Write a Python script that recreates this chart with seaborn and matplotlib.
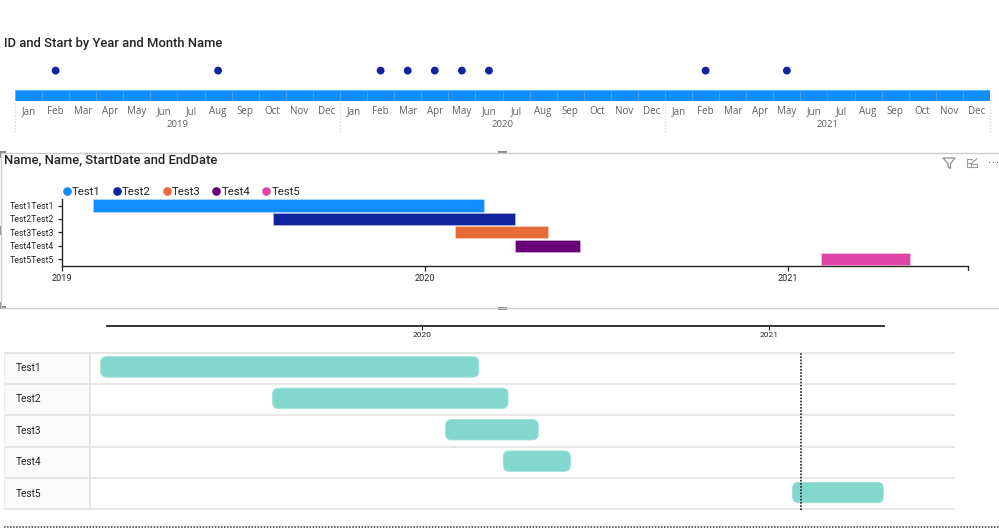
import matplotlib
matplotlib.use("Agg")
import matplotlib.pyplot as plt
import matplotlib.dates as mdates
from matplotlib.lines import Line2D
from matplotlib.patches import FancyBboxPatch, Rectangle, Polygon
import pandas as pd
import seaborn as sns

sns.set_theme(style="white")
plt.rcParams["font.family"] = ["Open Sans", "DejaVu Sans"]

W, H = 999, 530
ROBOTO = ["Roboto", "DejaVu Sans"]

# top chart: month timeline with dots
month_names = ["Jan", "Feb", "Mar", "Apr", "May", "Jun", "Jul", "Aug", "Sep", "Oct", "Nov", "Dec"]
years = [2019, 2020, 2021]
dot_months = ["2019-02", "2019-08", "2020-02", "2020-03", "2020-04", "2020-05", "2020-06", "2021-02", "2021-05"]

# middle chart
mid_names = ["Test1Test1", "Test2Test2", "Test3Test3", "Test4Test4", "Test5Test5"]
legend_names = ["Test1", "Test2", "Test3", "Test4", "Test5"]
mid_start = ["2019-02-01", "2019-08-01", "2020-02-01", "2020-04-01", "2021-02-03"]
mid_end = ["2020-03-01", "2020-04-01", "2020-05-04", "2020-06-06", "2021-05-04"]
mid_colors = ["#118DFF", "#12239E", "#E66C37", "#6B007B", "#E044A7"]

# bottom chart
low_names = ["Test1", "Test2", "Test3", "Test4", "Test5"]
low_start = ["2019-01-26", "2019-07-27", "2020-01-26", "2020-03-27", "2021-01-27"]
low_end = ["2020-03-01", "2020-04-01", "2020-05-03", "2020-06-06", "2021-05-03"]
low_axis_range = ["2019-02-02", "2021-05-03"]
today = "2021-02-05"


def box_axes(fig, left, top, right, bottom):
    ax = fig.add_axes([left / W, 1 - bottom / H, (right - left) / W, (bottom - top) / H])
    ax.patch.set_alpha(0)
    return ax


def date_limits(left, right, date0, px0, date1, px1):
    d0 = mdates.date2num(pd.Timestamp(date0))
    d1 = mdates.date2num(pd.Timestamp(date1))
    per_px = (d1 - d0) / (px1 - px0)
    return d0 + (left - px0) * per_px, d0 + (right - px0) * per_px


def gantt_frame(names, starts, ends):
    df = pd.DataFrame({"name": names, "start": pd.to_datetime(starts), "end": pd.to_datetime(ends)})
    df["start_num"] = mdates.date2num(df["start"])
    df["days"] = (df["end"] - df["start"]).dt.days
    return df


fig = plt.figure(figsize=(W / 100, H / 100), dpi=100, facecolor="white")

# page furniture in pixel coordinates
page = fig.add_axes([0, 0, 1, 1], zorder=0)
page.set_xlim(0, W)
page.set_ylim(H, 0)
page.axis("off")

page.text(4, 43.5, "ID and Start by Year and Month Name", fontsize=9.35, color="#252423", va="center",
          family=ROBOTO, weight=500)
page.text(4, 160, "Name, Name, StartDate and EndDate", fontsize=9.35, color="#252423", va="center",
          family=ROBOTO, weight=500)

frame = "#CCCCCC"
page.plot([1, 999], [152.5, 152.5], color=frame, lw=1)
page.plot([1, 999], [308, 308], color=frame, lw=1)
page.plot([1, 1], [152.5, 308], color=frame, lw=1)
for x, y, w, h in [(498, 151, 9, 3), (498, 306.5, 9, 3), (0, 151, 2, 7), (0, 226, 2, 9),
                   (0, 302, 2, 7), (2, 151, 4, 2), (2, 306, 4, 2)]:
    page.add_patch(Rectangle((x, y), w, h, color="#8A8A8A", lw=0))

# header icons
page.add_patch(Polygon([(943, 158), (955, 158), (950.5, 163.5), (950.5, 168.5), (948, 167), (948, 163.5)],
                       closed=True, fill=False, ec="#8E8E8E", lw=0.9))
page.plot([972, 966.5, 966.5, 977, 977, 972], [158.5, 158.5, 167, 167, 164, 164], color="#9A9A9A", lw=0.8)
page.plot([966.5, 971, 971], [163, 163, 167], color="#9A9A9A", lw=0.8)
page.plot([971, 977], [164, 158.5], color="#9A9A9A", lw=0.8)
for x in [989, 993, 997]:
    page.add_patch(Rectangle((x, 161.5), 1.3, 1.3, color="#666666", lw=0))

# bottom table background
line_grey = "#E3E3E3"
page.add_patch(Rectangle((4, 352.5), 86, 157, color="#FAFAFA", lw=0))
for y in [352.5, 384, 415.3, 446.5, 478, 509.3]:
    page.plot([4, 955], [y, y], color=line_grey, lw=1.2, solid_capstyle="butt")
page.plot([90, 90], [352.5, 509.3], color=line_grey, lw=1.2)
page.plot([4, 4], [352.5, 509.3], color="#EDEDED", lw=0.8)
page.plot([4, 999], [527, 527], color="#333333", lw=1.1, ls=(0, (1, 1)))

# top chart
periods = [f"{y}-{m:02d}" for y in years for m in range(1, 13)]
month_labels = month_names * len(years)
band = pd.DataFrame({"pos": range(len(periods)), "height": [1] * len(periods)})

ax = box_axes(fig, 15, 60, 990, 100.7)
sns.barplot(data=band, x="pos", y="height", width=1, color="#118DFF", saturation=1,
            edgecolor="#4AA6FC", linewidth=0.5, ax=ax)
dots = pd.DataFrame({"pos": [periods.index(d) for d in dot_months], "level": 2.9})
sns.scatterplot(data=dots, x="pos", y="level", s=32, color="#12239E", edgecolor="none", ax=ax, clip_on=False)
ax.set_xlim(-0.5, len(periods) - 0.5)
ax.set_ylim(0, 3.92)
ax.set_xticks(range(len(periods)))
ax.set_xticklabels(month_labels, fontsize=7, color="#605E5C")
ax.tick_params(axis="x", length=0, pad=3.6)
ax.set_yticks([])
ax.set_xlabel("")
ax.set_ylabel("")
sns.despine(ax=ax, left=True, bottom=True)
for i, year in enumerate(years):
    ax.text(5.5 + 12 * i, -2.28, str(year), fontsize=6.8, color="#605E5C", ha="center", va="center")
ax.vlines([-0.5, 11.5, 23.5, 35.5], -3.0, 0, color="#D5D5D5", lw=0.9, ls=(0, (1, 1.5)), clip_on=False)

# middle chart
mid = gantt_frame(mid_names, mid_start, mid_end)
ax = box_axes(fig, 62, 198.8, 968, 265.8)
sns.barplot(data=mid, y="name", x="days", left=mid["start_num"], width=0.92, saturation=1,
            color=mid_colors[0], errorbar=None, ax=ax)
for bar, c in zip(ax.patches, mid_colors):
    bar.set_facecolor(c)
    bar.set_edgecolor((1, 1, 1, 0.3))
    bar.set_linewidth(0.6)
ax.set_xlim(*date_limits(62, 968, "2019-01-01", 62, "2021-01-01", 788))
ax.set_ylim(4.5, -0.5)
ax.xaxis_date()
ax.set_xticks(mdates.date2num(pd.to_datetime(["2019-01-01", "2020-01-01", "2021-01-01"])))
ax.set_xticklabels(["2019", "2020", "2021"], fontsize=6.6, color="#252423", family=ROBOTO)
ax.tick_params(axis="x", length=3.5, width=0.9, color="#252423", pad=2.5, bottom=True)
ax.tick_params(axis="y", length=3.2, width=0.9, color="#252423", pad=2.4, left=True, labelsize=6.3, labelcolor="#252423")
for label in ax.get_yticklabels():
    label.set_family(ROBOTO)
ax.set_xlabel("")
ax.set_ylabel("")
sns.despine(ax=ax)
for side in ["left", "bottom"]:
    ax.spines[side].set_color("#252423")
    ax.spines[side].set_linewidth(1)
ax.plot([1, 1], [0, -4 / 67], color="#252423", lw=0.9, transform=ax.transAxes, clip_on=False)

handles = [Line2D([], [], marker="o", ls="", ms=5.2, color=c, label=n) for c, n in zip(mid_colors, legend_names)]
ax.legend(handles=handles, ncol=5, frameon=False, loc="lower left", bbox_to_anchor=(-0.001, 1.03),
          prop={"family": ROBOTO, "size": 8.2}, labelcolor="#252423", handletextpad=-0.05,
          columnspacing=0.9, handlelength=1.0, borderpad=0, borderaxespad=0)

# bottom chart
low = gantt_frame(low_names, low_start, low_end)
low_lims = date_limits(90, 955, "2020-01-01", 422, "2021-01-01", 768)
ax = box_axes(fig, 90, 352.5, 955, 509.5)
sns.barplot(data=low, y="name", x="days", left=low["start_num"], width=0.65, color="#82D8CC", saturation=1,
            errorbar=None, ax=ax)
ax.set_xlim(*low_lims)
ax.set_ylim(4.54, -0.46)
x_per_px = (low_lims[1] - low_lims[0]) / 865
y_per_px = 5 / 157
for bar in list(ax.patches):
    x, y, w, h = bar.get_bbox().x0, bar.get_bbox().y0, bar.get_width(), bar.get_height()
    bar.remove()
    ax.add_patch(FancyBboxPatch((x, y), w, h, boxstyle=f"round,pad=0,rounding_size={6 * x_per_px}",
                                mutation_aspect=y_per_px / x_per_px, fc="#82D8CC", ec="#9BE0D6", lw=0.6))
ax.axvline(mdates.date2num(pd.Timestamp(today)), color="#222222", lw=1.2, ls=(0, (1, 0.9)), zorder=5)
ax.set_xticks([])
ax.tick_params(axis="y", length=0, pad=74 * 0.72, labelsize=7.3, labelcolor="#252423", left=False)
for label in ax.get_yticklabels():
    label.set_ha("left")
    label.set_family(ROBOTO)
ax.set_xlabel("")
ax.set_ylabel("")
sns.despine(ax=ax, left=True, bottom=True)

# axis strip above the bottom chart
strip = box_axes(fig, 107, 324, 884.3, 325.5)
strip.set_xlim(*mdates.date2num(pd.to_datetime(low_axis_range)))
strip.set_yticks([])
strip.set_xticks(mdates.date2num(pd.to_datetime(["2020-01-01", "2021-01-01"])))
strip.set_xticklabels(["2020", "2021"], fontsize=6, color="#252423", family=ROBOTO)
strip.tick_params(axis="x", length=3, width=0.8, color="#252423", pad=2, bottom=True)
sns.despine(ax=strip, left=True)
strip.spines["bottom"].set_color("#222222")
strip.spines["bottom"].set_linewidth(1.3)

fig.savefig("out.png", dpi=100)
